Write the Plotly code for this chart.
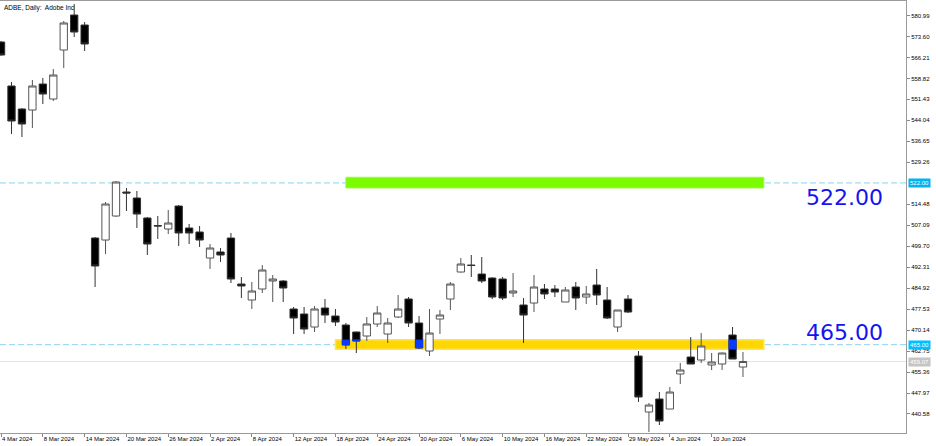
import plotly.graph_objects as go

# ---------------- data ----------------
dates = [
    "2024-03-04", "2024-03-05", "2024-03-06", "2024-03-07", "2024-03-08",
    "2024-03-11", "2024-03-12", "2024-03-13", "2024-03-14", "2024-03-15",
    "2024-03-18", "2024-03-19", "2024-03-20", "2024-03-21", "2024-03-22",
    "2024-03-25", "2024-03-26", "2024-03-27", "2024-03-28", "2024-04-01",
    "2024-04-02", "2024-04-03", "2024-04-04", "2024-04-05", "2024-04-08",
    "2024-04-09", "2024-04-10", "2024-04-11", "2024-04-12", "2024-04-15",
    "2024-04-16", "2024-04-17", "2024-04-18", "2024-04-19", "2024-04-22",
    "2024-04-23", "2024-04-24", "2024-04-25", "2024-04-26", "2024-04-29",
    "2024-04-30", "2024-05-01", "2024-05-02", "2024-05-03", "2024-05-06",
    "2024-05-07", "2024-05-08", "2024-05-09", "2024-05-10", "2024-05-13",
    "2024-05-14", "2024-05-15", "2024-05-16", "2024-05-17", "2024-05-20",
    "2024-05-21", "2024-05-22", "2024-05-23", "2024-05-24", "2024-05-28",
    "2024-05-29", "2024-05-30", "2024-05-31", "2024-06-03", "2024-06-04",
    "2024-06-05", "2024-06-06", "2024-06-07", "2024-06-10", "2024-06-11",
    "2024-06-12", "2024-06-13",
]
future_dates = ["2024-06-14", "2024-06-17"]

opens = [571.65, 556.15, 548.04, 547.69, 556.85, 551.57, 568.83, 581.16, 577.64,
         502.59, 501.88, 510.34, 518.80, 516.68, 509.64, 506.99, 505.76, 513.86, 506.11, 504.70,
         495.54, 497.66, 502.59, 486.38, 480.74, 484.62, 487.44, 487.44, 477.57, 475.81,
         471.23, 477.92, 475.10, 471.93, 469.47, 468.06, 472.29, 468.76, 474.75, 481.09,
         472.64, 462.77, 474.05, 481.09, 490.61, 493.07, 489.90, 488.49, 488.14, 483.21,
         478.98, 479.68, 484.62, 484.62, 480.04, 485.32, 481.80, 486.03, 480.74, 471.23,
         481.09, 461.01, 441.28, 445.86, 442.33, 454.67, 460.66, 459.60, 457.84, 458.19,
         468.41, 457.13]
highs = [572.00, 557.56, 548.40, 558.26, 558.97, 562.14, 579.05, 585.04, 578.70,
         502.94, 515.27, 522.67, 520.21, 519.15, 509.99, 510.34, 512.45, 514.22, 507.52, 506.82,
         500.47, 499.06, 504.35, 488.85, 487.08, 493.07, 489.55, 487.79, 478.28, 478.28,
         478.63, 481.09, 477.57, 472.64, 469.60, 474.75, 478.63, 474.40, 482.50, 481.80,
         475.10, 477.57, 477.22, 487.08, 495.54, 496.60, 495.89, 488.80, 488.85, 490.26,
         481.45, 489.55, 486.38, 486.03, 485.32, 487.08, 485.68, 491.67, 485.32, 477.22,
         482.50, 462.77, 444.45, 448.32, 450.09, 458.54, 467.70, 469.11, 462.07, 462.20,
         471.23, 462.42]
lows = [566.80, 539.23, 538.18, 541.35, 549.80, 550.86, 562.49, 573.41, 568.48,
        485.32, 496.95, 509.99, 512.10, 506.11, 496.60, 502.24, 504.00, 499.77, 500.47, 499.42,
        491.67, 494.13, 486.73, 481.45, 477.57, 483.21, 480.04, 480.04, 468.76, 468.76,
        469.47, 472.64, 471.58, 463.48, 462.07, 466.30, 471.23, 465.59, 474.40, 471.23,
        463.48, 461.01, 468.76, 477.22, 490.40, 488.85, 486.73, 481.09, 480.74, 481.80,
        465.59, 476.51, 481.09, 481.80, 480.04, 477.22, 479.33, 478.98, 474.05, 469.47,
        476.16, 444.80, 434.23, 436.70, 442.33, 451.14, 458.19, 458.54, 456.08, 456.08,
        459.95, 453.61]
closes = [567.07, 543.81, 542.76, 556.15, 553.33, 560.02, 578.35, 575.17, 570.95,
          492.72, 514.57, 522.32, 518.44, 511.04, 500.47, 506.82, 507.87, 504.35, 504.35, 501.88,
          499.06, 496.60, 488.14, 485.68, 483.91, 491.31, 488.14, 484.97, 474.40, 470.52,
          477.57, 475.45, 472.99, 464.89, 466.30, 472.29, 476.16, 472.64, 477.57, 472.64,
          463.83, 469.11, 475.45, 486.38, 493.43, 492.90, 487.44, 481.80, 481.45, 483.91,
          475.45, 485.32, 482.86, 483.56, 484.27, 481.45, 482.86, 482.50, 474.40, 477.22,
          476.51, 446.56, 443.74, 438.11, 448.32, 456.08, 458.19, 464.53, 458.90, 462.07,
          459.95, 459.07]

x_tick_dates = ["2024-03-04", "2024-03-08", "2024-03-14", "2024-03-20", "2024-03-26",
                "2024-04-02", "2024-04-08", "2024-04-12", "2024-04-18", "2024-04-24",
                "2024-04-30", "2024-05-06", "2024-05-10", "2024-05-16", "2024-05-22",
                "2024-05-29", "2024-06-04", "2024-06-10"]
x_tick_labels = ["4 Mar 2024", "8 Mar 2024", "14 Mar 2024", "20 Mar 2024", "26 Mar 2024",
                 "2 Apr 2024", "8 Apr 2024", "12 Apr 2024", "18 Apr 2024", "24 Apr 2024",
                 "30 Apr 2024", "6 May 2024", "10 May 2024", "16 May 2024", "22 May 2024",
                 "29 May 2024", "4 Jun 2024", "10 Jun 2024"]
price_ticks = [580.99, 573.60, 566.21, 558.82, 551.43, 544.04, 536.65, 529.26,
               514.48, 507.09, 499.70, 492.31, 484.92, 477.53, 470.14, 462.75,
               455.36, 447.97, 440.58]

levels = [522.00, 465.00]
bid_price = 459.07
green_zone = (520.2, 524.0)
green_span = ("2024-04-19", "2024-06-17")
yellow_zone = (463.4, 466.7)
yellow_span = ("2024-04-18", "2024-06-17")
title_text = "ADBE, Daily:\u00a0 Adobe Inc"

# ---------------- build ----------------
idx = {d: i for i, d in enumerate(dates + future_dates)}
xs = [idx[d] for d in dates]

fig = go.Figure()
fig.add_trace(go.Candlestick(
    x=xs, open=opens, high=highs, low=lows, close=closes,
    increasing=dict(fillcolor="white", line=dict(color="#555555", width=1)),
    decreasing=dict(fillcolor="black", line=dict(color="#333333", width=1)),
    whiskerwidth=0, hoverinfo="skip", showlegend=False,
))

# blue overlap where bearish bodies cross the yellow zone (drawn as a second candle trace on top)
bx, bo, bc = [], [], []
z0, z1 = idx[yellow_span[0]], idx[yellow_span[1]]
for i, (o, c) in enumerate(zip(opens, closes)):
    if z0 <= xs[i] <= z1 and c < o:
        lo = max(c, yellow_zone[0])
        hi = min(o, yellow_zone[1])
        if hi > lo:
            bx.append(xs[i]); bo.append(hi); bc.append(lo)
fig.add_trace(go.Candlestick(
    x=bx, open=bo, high=bo, low=bc, close=bc,
    increasing=dict(fillcolor="#0a3cff", line=dict(color="#0a3cff", width=0.5)),
    decreasing=dict(fillcolor="#0a3cff", line=dict(color="#0a3cff", width=0.5)),
    whiskerwidth=0, hoverinfo="skip", showlegend=False,
))

# zones
fig.add_shape(type="rect", xref="x", yref="y",
              x0=idx[green_span[0]], x1=idx[green_span[1]],
              y0=green_zone[0], y1=green_zone[1],
              fillcolor="#7CFC00", line=dict(color="#a8f060", width=1), layer="below")
fig.add_shape(type="rect", xref="x", yref="y",
              x0=idx[yellow_span[0]], x1=idx[yellow_span[1]],
              y0=yellow_zone[0], y1=yellow_zone[1],
              fillcolor="#FFD700", line=dict(color="#ffe45a", width=1.5), layer="below")

# bid line
fig.add_shape(type="line", xref="paper", yref="y", x0=0, x1=1, y0=bid_price, y1=bid_price,
              line=dict(color="#e4e4e4", width=1), layer="below")
# level lines
for lv in levels:
    fig.add_shape(type="line", xref="paper", yref="y", x0=0, x1=1, y0=lv, y1=lv,
                  line=dict(color="#8fd0ee", width=1, dash="6px,3px"), layer="below")

# big level texts
fig.add_annotation(x=0.932, xref="paper", y=levels[0], yref="y", yshift=-15,
                   text=f"{levels[0]:.2f}", showarrow=False, xanchor="center", yanchor="middle",
                   font=dict(family="DejaVu Sans", size=22, color="#1414f0"))
fig.add_annotation(x=0.932, xref="paper", y=levels[1], yref="y", yshift=12,
                   text=f"{levels[1]:.2f}", showarrow=False, xanchor="center", yanchor="middle",
                   font=dict(family="DejaVu Sans", size=22, color="#1414f0"))

# highlighted price labels on the right axis
for val, bg in [(levels[0], "#00b4f0"), (levels[1], "#00c0ff"), (bid_price, "#c4c4c4")]:
    fig.add_annotation(x=1, xref="paper", y=val, yref="y", xshift=2,
                       text=f"{val:.2f}", showarrow=False, xanchor="left", yanchor="middle",
                       bgcolor=bg, borderpad=1,
                       font=dict(family="Liberation Sans", size=6, color="white"))

# title
fig.add_annotation(x=0, xref="paper", y=1, yref="paper", xshift=2, yshift=-1,
                   text=title_text, showarrow=False, xanchor="left", yanchor="top",
                   font=dict(family="Liberation Sans", size=6.5, color="black"))

fig.update_layout(
    width=936, height=446,
    margin=dict(l=0, r=30, t=1, b=13),
    paper_bgcolor="white", plot_bgcolor="white",
    boxgap=0.3, boxgroupgap=0, boxmode="overlay",
    showlegend=False,
    xaxis=dict(
        range=[-0.1, 86.6], showgrid=False, zeroline=False, automargin=False,
        rangeslider=dict(visible=False),
        tickvals=[idx[d] for d in x_tick_dates], ticktext=x_tick_labels,
        tickangle=0,
        ticks="outside", ticklen=3, tickcolor="#888888",
        ticklabelposition="outside right",
        tickfont=dict(family="Liberation Sans", size=6, color="black"),
        showline=True, linecolor="#9a9a9a", linewidth=1, mirror=True,
    ),
    yaxis=dict(
        side="right", range=[433.88, 586.10], showgrid=False, zeroline=False, automargin=False,
        tickvals=price_ticks, ticktext=[f"{v:.2f}" for v in price_ticks],
        ticks="outside", ticklen=3, tickcolor="#888888",
        tickfont=dict(family="Liberation Sans", size=6, color="black"),
        showline=True, linecolor="#9a9a9a", linewidth=1, mirror=True,
    ),
)

fig.write_html("out.html", config={"displayModeBar": False},
               post_script="document.body.style.margin='0';document.body.style.overflow='hidden';")
